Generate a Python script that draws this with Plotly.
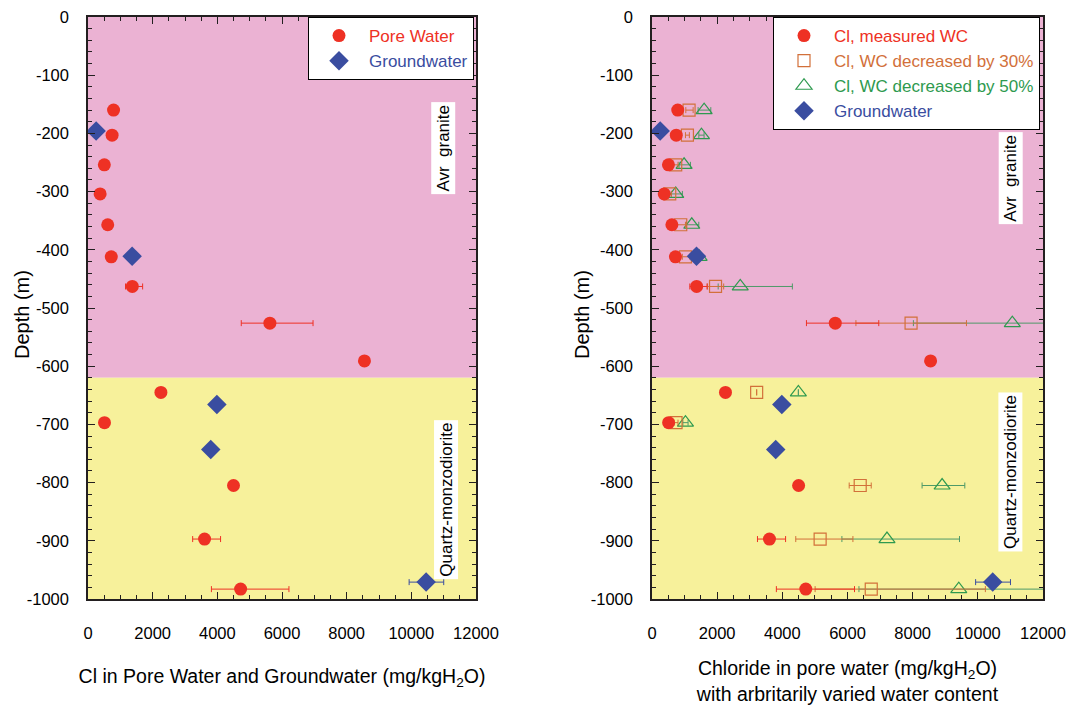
import plotly.graph_objects as go

# ---- data -------------------------------------------------------------
# pore-water chloride profile (mg/kgH2O) versus depth (m)
depth_pw = [-160, -203, -254, -304, -357, -412, -463, -526, -591, -645, -697, -805, -897, -983]
cl_measured = [790, 745, 505, 375, 610, 720, 1370, 5625, 8550, 2255, 510, 4500, 3605, 4720]
cl_measured_minus = [0, 0, 0, 0, 0, 0, 210, 885, 0, 0, 0, 0, 368, 903]
cl_measured_plus = [0, 0, 0, 0, 0, 0, 320, 1335, 0, 0, 0, 0, 495, 1495]

# water content decreased by 30 %
cl_wc30 = [1138, 1087, 728, 544, 882, 1026, 1950, 7951, None, 3212, 738, 6390, 5160, 6729]
cl_wc30_minus = [100, 60, 70, 50, 130, 95, 250, 1693, 0, 0, 60, 338, 748, 1723]
cl_wc30_plus = [125, 60, 70, 50, 145, 135, 250, 1700, 0, 0, 60, 338, 1006, 3502]

# water content decreased by 50 %
cl_wc50 = [1600, 1518, 985, 728, 1221, 1446, 2708, 11058, None, 4492, 1027, 8904, 7212, 9415]
cl_wc50_minus = [185, 80, 154, 133, 165, 100, 677, 3036, 0, 0, 80, 615, 1384, 3064]
cl_wc50_plus = [205, 80, 195, 205, 215, 100, 1600, 3500, 0, 0, 80, 696, 2225, 3500]

# groundwater chloride
depth_gw = [-196, -411, -666, -743, -971]
cl_gw = [252, 1365, 3985, 3797, 10457]
cl_gw_minus = [0, 0, 110, 60, 525]
cl_gw_plus = [0, 0, 110, 60, 545]

granite_base = -620  # contact Avr granite / Quartz-monzodiorite

# axis ticks
x_ticks = [0, 2000, 4000, 6000, 8000, 10000, 12000]
y_ticks = [0, -100, -200, -300, -400, -500, -600, -700, -800, -900, -1000]

# ---- styling ----------------------------------------------------------
RED = "#EE3124"
BLUE = "#3A4DA0"
ORANGE = "#D2703A"
GREEN = "#2E9A4F"
PINK = "#EBB2D3"
YELLOW = "#F7F19B"
AXIS = "#231F20"
FONT = "Arial, Liberation Sans, sans-serif"

W, H = 1067, 706
PLOT_TOP, PLOT_BOTTOM = 17, 599
LEFT_X = (88, 476)
RIGHT_X = (652, 1043)


def colored(text, color):
    return f"<span style='color:{color}'>{text}</span>"


def err(plus, minus, color):
    return dict(type="data", symmetric=False, array=plus, arrayminus=minus,
                color=color, thickness=1, width=3)


fig = go.Figure()

# left panel
fig.add_trace(go.Scatter(
    x=cl_measured, y=depth_pw, mode="markers", name=colored("Pore Water", RED),
    marker=dict(symbol="circle", size=13, color=RED),
    error_x=err(cl_measured_plus, cl_measured_minus, RED),
    xaxis="x", yaxis="y", legend="legend"))
fig.add_trace(go.Scatter(
    x=cl_gw, y=depth_gw, mode="markers", name=colored("Groundwater", BLUE),
    marker=dict(symbol="diamond", size=15, color=BLUE),
    error_x=err(cl_gw_plus, cl_gw_minus, BLUE),
    xaxis="x", yaxis="y", legend="legend"))

# right panel
fig.add_trace(go.Scatter(
    x=cl_wc50, y=depth_pw, mode="markers", name=colored("Cl, WC decreased by 50%", GREEN),
    marker=dict(symbol="triangle-up-open", size=14, color=GREEN, line=dict(width=1.2)),
    error_x=err(cl_wc50_plus, cl_wc50_minus, "#4E9A68"),
    xaxis="x2", yaxis="y2", legend="legend2", legendrank=3))
fig.add_trace(go.Scatter(
    x=cl_wc30, y=depth_pw, mode="markers", name=colored("Cl, WC decreased by 30%", ORANGE),
    marker=dict(symbol="square-open", size=12, color=ORANGE, line=dict(width=1.2)),
    error_x=err(cl_wc30_plus, cl_wc30_minus, ORANGE),
    xaxis="x2", yaxis="y2", legend="legend2", legendrank=2))
fig.add_trace(go.Scatter(
    x=cl_measured, y=depth_pw, mode="markers", name=colored("Cl, measured WC", RED),
    marker=dict(symbol="circle", size=13, color=RED),
    error_x=err(cl_measured_plus, cl_measured_minus, RED),
    xaxis="x2", yaxis="y2", legend="legend2", legendrank=1))
fig.add_trace(go.Scatter(
    x=cl_gw, y=depth_gw, mode="markers", name=colored("Groundwater", BLUE),
    marker=dict(symbol="diamond", size=15, color=BLUE),
    error_x=err(cl_gw_plus, cl_gw_minus, BLUE),
    xaxis="x2", yaxis="y2", legend="legend2", legendrank=4))

# rock-unit background bands
for xa, ya in (("x", "y"), ("x2", "y2")):
    fig.add_shape(type="rect", xref=f"{xa} domain", yref=ya, x0=0, x1=1,
                  y0=0, y1=granite_base, fillcolor=PINK, line_width=0, layer="below")
    fig.add_shape(type="rect", xref=f"{xa} domain", yref=ya, x0=0, x1=1,
                  y0=granite_base, y1=-1000, fillcolor=YELLOW, line_width=0, layer="below")

# rock-unit labels
rock_labels = [
    ("x", "y", 11000, -225, "Avr  granite"),
    ("x", "y", 11060, -830, "Quartz-monzodiorite"),
    ("x2", "y2", 11000, -277, "Avr  granite"),
    ("x2", "y2", 11000, -781, "Quartz-monzodiorite"),
]
for xa, ya, xv, yv, txt in rock_labels:
    fig.add_annotation(x=xv, y=yv, xref=xa, yref=ya, text=txt, showarrow=False,
                       textangle=-90, bgcolor="white", borderpad=2,
                       font=dict(family=FONT, size=17, color="black"))

# depth titles, set close to the tick labels
for xpix in (22, 582):
    fig.add_annotation(x=xpix / W, y=1 - 315 / H, xref="paper", yref="paper",
                       text="Depth (m)", showarrow=False, textangle=-90,
                       xanchor="center", yanchor="middle",
                       font=dict(family=FONT, size=20, color="black"))

xaxis_common = dict(
    range=[0, 12000], tickmode="array", tickvals=x_ticks,
    ticktext=[str(v) for v in x_ticks],
    showgrid=False, zeroline=False, automargin=False,
    showline=True, linecolor=AXIS, linewidth=1.5, mirror="allticks",
    ticks="inside", ticklen=7, tickwidth=1.2, tickcolor=AXIS,
    minor=dict(tickmode="linear", tick0=0, dtick=500, ticks="inside",
               ticklen=4, tickwidth=1, tickcolor=AXIS),
    tickfont=dict(family=FONT, size=16.5, color="black"),
    ticklabelstandoff=18,
)
yaxis_common = dict(
    range=[-1000, 0], tickmode="array", tickvals=y_ticks,
    ticktext=[str(v) for v in y_ticks],
    showgrid=False, zeroline=False, automargin=False,
    showline=True, linecolor=AXIS, linewidth=1.5, mirror="allticks",
    ticks="inside", ticklen=7, tickwidth=1.2, tickcolor=AXIS,
    minor=dict(tickmode="linear", tick0=0, dtick=20, ticks="inside",
               ticklen=4, tickwidth=1, tickcolor=AXIS),
    tickfont=dict(family=FONT, size=16.5, color="black"),
    ticklabelstandoff=14,
    domain=[1 - PLOT_BOTTOM / H, 1 - PLOT_TOP / H],
)

legend_common = dict(
    bgcolor="white", bordercolor="black", borderwidth=1,
    font=dict(family=FONT, size=17), xanchor="right", yanchor="top",
    y=1 - PLOT_TOP / H, tracegroupgap=0, itemclick=False, itemwidth=50,
)

fig.update_layout(
    width=W, height=H, autosize=False,
    margin=dict(l=0, r=0, t=0, b=0, autoexpand=False),
    paper_bgcolor="white", plot_bgcolor="white",
    font=dict(family=FONT, color="black"),
    showlegend=True,
    xaxis=dict(xaxis_common, domain=[LEFT_X[0] / W, LEFT_X[1] / W], anchor="y",
               title=dict(text="Cl in Pore Water and Groundwater (mg/kgH<sub>2</sub>O)",
                          font=dict(family=FONT, size=19.5), standoff=29)),
    yaxis=dict(yaxis_common, anchor="x"),
    xaxis2=dict(xaxis_common, domain=[RIGHT_X[0] / W, RIGHT_X[1] / W], anchor="y2",
                title=dict(text="Chloride in pore water (mg/kgH<sub>2</sub>O)<br>"
                                "with arbritarily varied water content",
                           font=dict(family=FONT, size=19.5), standoff=21)),
    yaxis2=dict(yaxis_common, anchor="x2"),
    legend=dict(legend_common, x=474 / W),
    legend2=dict(legend_common, x=1040 / W, traceorder="normal"),
)

fig.write_html("out.html")
